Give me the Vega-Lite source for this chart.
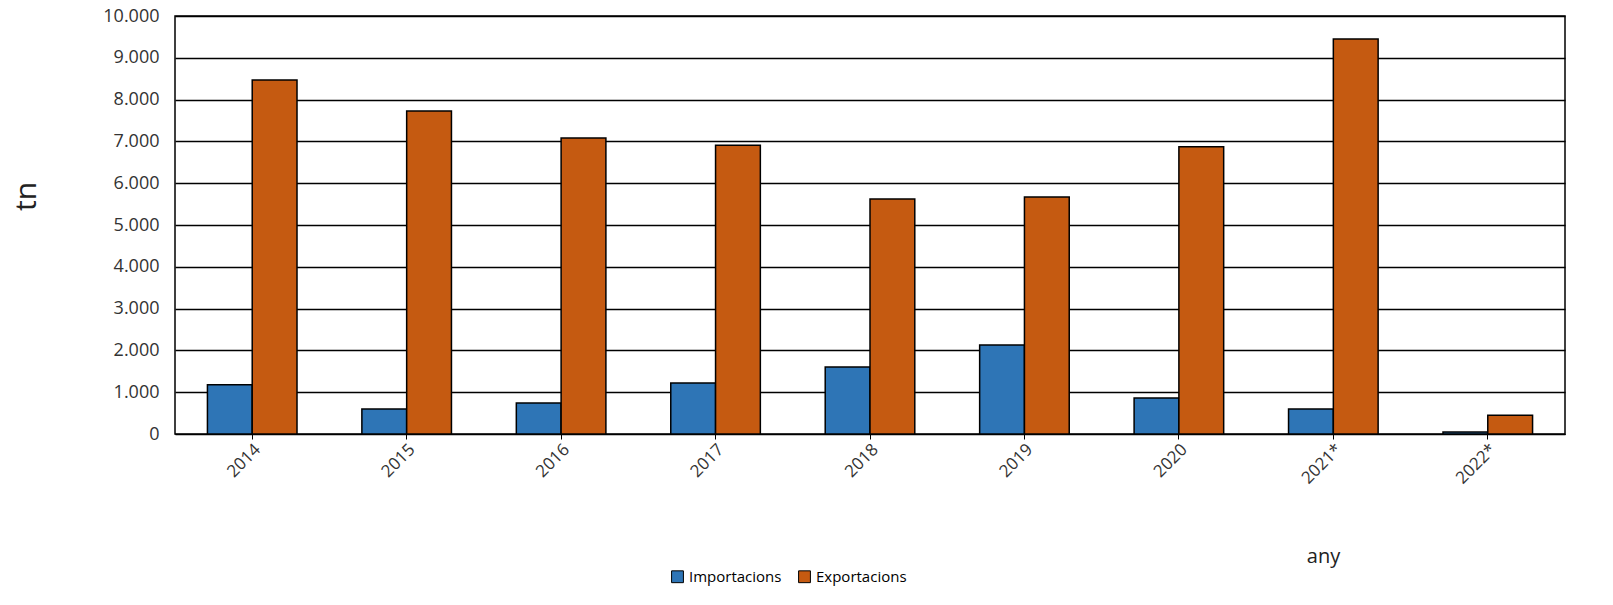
{
  "$schema": "https://vega.github.io/schema/vega-lite/v6.json",
  "width": 1390,
  "height": 418,
  "autosize": "none",
  "padding": {"left": 175, "top": 16, "right": 48, "bottom": 171},
  "data": {"values": [
    {"any": "2014", "serie": "Importacions", "v": 1180},
    {"any": "2014", "serie": "Exportacions", "v": 8470},
    {"any": "2015", "serie": "Importacions", "v": 600},
    {"any": "2015", "serie": "Exportacions", "v": 7730},
    {"any": "2016", "serie": "Importacions", "v": 740},
    {"any": "2016", "serie": "Exportacions", "v": 7080},
    {"any": "2017", "serie": "Importacions", "v": 1220},
    {"any": "2017", "serie": "Exportacions", "v": 6910},
    {"any": "2018", "serie": "Importacions", "v": 1600},
    {"any": "2018", "serie": "Exportacions", "v": 5620},
    {"any": "2019", "serie": "Importacions", "v": 2130},
    {"any": "2019", "serie": "Exportacions", "v": 5670},
    {"any": "2020", "serie": "Importacions", "v": 860},
    {"any": "2020", "serie": "Exportacions", "v": 6870},
    {"any": "2021*", "serie": "Importacions", "v": 600},
    {"any": "2021*", "serie": "Exportacions", "v": 9450},
    {"any": "2022*", "serie": "Importacions", "v": 50},
    {"any": "2022*", "serie": "Exportacions", "v": 450}
  ]},
  "mark": {"type": "bar", "stroke": "black", "strokeWidth": 1.5},
  "encoding": {
    "x": {
      "field": "any", "type": "nominal", "title": "any",
      "scale": {"paddingInner": 0.42, "paddingOuter": 0.21},
      "axis": {"labelAngle": -45, "labelFontSize": 17, "labelColor": "#333", "domainColor": "black", "tickColor": "black",
               "titleFontSize": 20, "titleFontWeight": "normal", "titleX": 1148, "titleY": 112, "titleColor": "#222"}
    },
    "xOffset": {"field": "serie", "type": "nominal", "sort": ["Importacions", "Exportacions"]},
    "y": {
      "field": "v", "type": "quantitative", "title": "tn",
      "scale": {"domain": [0, 10000]},
      "axis": {"tickCount": 10, "format": ",.0f", "labelFontSize": 18, "labelColor": "#333", "gridColor": "black", "gridWidth": 1.5,
               "domain": false, "ticks": false, "labelPadding": 16,
               "titleFontSize": 30, "titleFontWeight": "normal", "titleX": -134, "titleY": 180, "titleColor": "#222"}
    },
    "color": {
      "field": "serie", "type": "nominal", "sort": ["Importacions", "Exportacions"],
      "scale": {"domain": ["Importacions", "Exportacions"], "range": ["#2E75B6", "#C55A11"]},
      "legend": {"title": null, "orient": "none", "direction": "horizontal", "legendX": 495, "legendY": 553,
                 "labelFontSize": 15, "symbolType": "square", "symbolStrokeColor": "black", "symbolStrokeWidth": 1, "symbolSize": 140, "columnPadding": 14}
    }
  },
  "config": {
    "font": "Open Sans",
    "locale": {"number": {"decimal": ",", "thousands": ".", "grouping": [3], "currency": ["", " €"]}},
    "view": {"stroke": "black", "strokeWidth": 1.5}
  }
}
